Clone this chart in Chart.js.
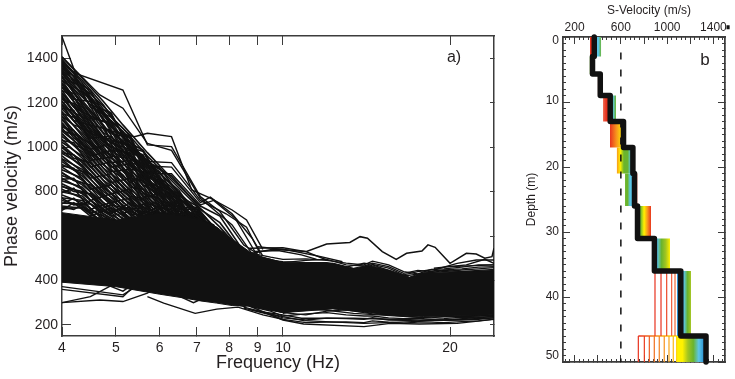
<!DOCTYPE html>
<html>
<head>
<meta charset="utf-8">
<script src="https://cdn.jsdelivr.net/npm/chart.js@4"></script>
<style>
  html, body { margin: 0; padding: 0; background: #fff; overflow: hidden; }
  canvas { position: absolute; top: 0; }
  #chart-a { left: 0; }
  #chart-b { left: 520px; }
</style>
</head>
<body>
<canvas id="chart-a" width="520" height="379"></canvas>
<canvas id="chart-b" width="215" height="379"></canvas>
<script>
//Panel a) axes
const freqTicks = [4, 5, 6, 7, 8, 9, 10, 20];
const phaseTicks = [200, 400, 600, 800, 1000, 1200, 1400];

//Panel a) the solid part of the curve bundle
const envFreq = [4, 5, 6, 6.6, 7.1, 7.6, 8.1, 8.7, 9.2, 10, 12.3, 13.4, 14.3, 15.6, 16.9, 17.9, 20, 22, 24];
const envUpper = [705, 672, 703, 690, 672, 640, 585, 530, 505, 480, 478, 455, 468, 445, 415, 435, 438, 442, 445];
const envLower = [392, 372, 338, 322, 308, 298, 287, 285, 272, 255, 272, 262, 255, 245, 240, 238, 240, 242, 246];

//Panel a) curves above the bundle, all read at these frequencies
const steepFreq = [4, 4.35, 4.75, 5.15, 5.7, 6.3, 7.1, 7.7, 8.5];
const steepCurves = [
  [1405, 1310, 1205, 1100, 975, 860, 735, 690, 530],
  [1395, 1290, 1170, 1085, 960, 850, 720, 660, 520],
  [1390, 1300, 1190, 1060, 930, 870, 725, 640, 520],
  [1380, 1270, 1160, 1040, 940, 830, 700, 620, 500],
  [1372, 1280, 1140, 1070, 910, 820, 690, 600, 490],
  [1365, 1250, 1150, 1020, 925, 790, 710, 610, 510],
  [1358, 1260, 1120, 1050, 900, 810, 675, 590, 480],
  [1350, 1230, 1130, 1000, 890, 770, 660, 570, 470],
  [1340, 1240, 1090, 1030, 870, 800, 650, 560, 460],
  [1330, 1210, 1100, 980, 880, 750, 680, 580, 500],
  [1320, 1190, 1065, 1010, 850, 780, 640, 550, 450],
  [1312, 1200, 1080, 960, 860, 735, 655, 540, 470],
  [1300, 1170, 1045, 990, 835, 760, 630, 530, 445],
  [1290, 1180, 1060, 945, 845, 720, 640, 525, 460],
  [1280, 1150, 1025, 970, 820, 745, 620, 520, 440],
  [1268, 1160, 1040, 925, 830, 705, 610, 515, 450],
  [1255, 1130, 1010, 950, 800, 730, 600, 510, 430],
  [1245, 1140, 1020, 905, 815, 690, 595, 505, 440],
  [1232, 1110, 990, 930, 785, 715, 590, 500, 425],
  [1220, 1120, 1000, 890, 795, 675, 580, 495, 430],
  [1208, 1090, 975, 910, 770, 700, 575, 490, 420],
  [1195, 1100, 980, 870, 780, 660, 570, 480, 425],
  [1185, 1070, 955, 895, 755, 685, 560, 470, 410],
  [1172, 1080, 960, 855, 765, 650, 550, 470, 415],
  [1160, 1050, 940, 875, 740, 670, 540, 460, 405],
  [1148, 1060, 945, 835, 750, 640, 530, 455, 410],
  [1135, 1030, 920, 860, 725, 655, 525, 450, 400],
  [1122, 1040, 925, 820, 735, 630, 515, 445, 405],
  [1110, 1010, 905, 840, 710, 640, 510, 440, 395],
  [1098, 1020, 905, 800, 720, 620, 500, 440, 400],
  [1085, 990, 885, 825, 700, 625, 495, 430, 390],
  [1072, 1000, 890, 785, 705, 610, 490, 430, 395],
  [1060, 970, 865, 805, 690, 610, 480, 425, 385],
  [1048, 980, 870, 770, 690, 600, 475, 420, 385],
  [1035, 950, 850, 790, 675, 600, 470, 415, 380],
  [1022, 960, 850, 750, 680, 590, 465, 410, 380],
  [1010, 930, 835, 775, 660, 585, 460, 405, 375],
  [998, 940, 830, 735, 665, 575, 455, 400, 370],
  [985, 910, 815, 755, 645, 570, 450, 400, 370],
  [972, 920, 810, 720, 650, 560, 445, 395, 365],
  [960, 890, 800, 740, 630, 555, 440, 390, 365],
  [948, 900, 790, 700, 635, 545, 435, 390, 360],
  [935, 870, 785, 725, 620, 540, 430, 385, 360],
  [922, 880, 770, 690, 620, 530, 425, 380, 355],
  [910, 850, 770, 710, 610, 525, 420, 380, 350],
  [898, 860, 750, 675, 605, 515, 415, 375, 350],
  [885, 830, 750, 695, 600, 510, 410, 370, 345],
  [872, 840, 735, 660, 590, 505, 405, 370, 345],
  [860, 810, 735, 680, 590, 500, 400, 365, 340],
  [848, 820, 720, 645, 575, 490, 400, 360, 340],
  [835, 790, 715, 665, 570, 485, 395, 360, 335],
  [822, 800, 700, 630, 560, 480, 390, 355, 335],
  [810, 770, 700, 650, 555, 475, 390, 350, 330],
  [798, 780, 690, 620, 545, 470, 385, 350, 330],
  [785, 750, 680, 640, 540, 465, 380, 345, 325],
  [772, 760, 670, 610, 530, 460, 380, 345, 325],
  [760, 735, 660, 625, 525, 455, 375, 340, 320],
  [748, 745, 650, 600, 520, 450, 370, 335, 320],
  [735, 725, 660, 610, 510, 445, 370, 335, 315],
  [722, 730, 690, 640, 560, 470, 380, 340, 315],
];

//Panel a) the curves that wander across the steep ones
const crossFreq = [4, 4.2, 4.5, 4.9, 5.3, 5.6, 6, 6.5, 7, 7.5, 8];
const crossCurves = [
  [1385, 1330, 1215, 1120, 1040, 945, 905, 790, 700, 640, 560],
  [1345, 1305, 1255, 1090, 1020, 985, 860, 760, 720, 620, 540],
  [1300, 1262, 1190, 1155, 985, 940, 880, 805, 680, 650, 530],
  [1268, 1240, 1160, 1060, 1045, 900, 840, 780, 735, 600, 520],
  [1240, 1180, 1140, 1100, 960, 920, 870, 725, 690, 630, 500],
  [1215, 1195, 1075, 1020, 990, 965, 800, 750, 660, 590, 510],
  [1190, 1120, 1100, 1000, 970, 870, 845, 770, 640, 610, 490],
  [1150, 1135, 1040, 1050, 920, 880, 780, 700, 710, 570, 480],
  [1125, 1060, 1015, 930, 940, 840, 810, 680, 630, 600, 470],
  [1090, 1075, 960, 985, 860, 850, 740, 730, 610, 560, 500],
  [1060, 1010, 980, 890, 900, 790, 770, 650, 680, 540, 460],
  [1030, 1020, 910, 935, 820, 810, 700, 700, 590, 570, 450],
  [1000, 950, 930, 840, 860, 750, 730, 620, 650, 520, 480],
  [975, 965, 860, 880, 780, 770, 660, 670, 570, 550, 440],
  [945, 900, 880, 790, 810, 710, 700, 640, 620, 500, 460],
  [915, 905, 810, 830, 740, 730, 650, 610, 560, 530, 430],
  [885, 850, 830, 750, 770, 680, 680, 590, 600, 500, 450],
  [855, 860, 760, 790, 700, 690, 630, 640, 550, 510, 420],
  [825, 800, 790, 710, 730, 660, 660, 600, 580, 480, 440],
  [795, 815, 720, 750, 680, 650, 620, 660, 540, 490, 430],
  [770, 740, 745, 690, 710, 690, 720, 670, 620, 520, 440],
  [745, 770, 700, 740, 720, 730, 700, 740, 650, 560, 470],
  [730, 720, 760, 700, 750, 700, 735, 690, 700, 600, 490],
  [715, 750, 690, 725, 680, 745, 690, 725, 730, 640, 520],
  [1375, 1290, 1240, 1150, 1000, 980, 850, 770, 690, 600, 500],
  [1355, 1320, 1180, 1135, 1055, 930, 890, 745, 670, 620, 510],
  [1335, 1270, 1225, 1070, 1000, 960, 825, 790, 705, 580, 490],
  [1318, 1250, 1130, 1110, 950, 905, 855, 720, 720, 590, 480],
  [1285, 1215, 1205, 1030, 1010, 860, 820, 760, 650, 630, 470],
  [1255, 1225, 1100, 1075, 930, 915, 760, 735, 680, 570, 500],
  [1230, 1155, 1120, 985, 975, 880, 850, 700, 660, 600, 480],
  [1205, 1145, 1060, 1035, 900, 890, 790, 710, 695, 550, 490],
  [1175, 1165, 1020, 960, 950, 825, 835, 690, 640, 590, 470],
  [1138, 1100, 1070, 910, 925, 855, 720, 760, 600, 530, 460],
  [1108, 1040, 990, 1015, 840, 875, 760, 665, 670, 545, 450],
  [1075, 1055, 940, 955, 880, 775, 790, 640, 625, 580, 480],
];

//Panel a) curves along the upper and lower edge at high frequency
const edgeFreq = [8.5, 9.5, 10, 11, 12, 13, 14, 14.5, 15.5, 16.5, 17.5, 18.5, 19.5, 21, 22.5, 24];
const edgeCurves = [
  [530, 505, 495, 497, 490, 478, 470, 487, 470, 440, 430, 450, 452, 460, 470, 470],
  [520, 495, 480, 490, 495, 470, 465, 478, 462, 432, 445, 440, 448, 452, 460, 462],
  [510, 490, 485, 480, 480, 460, 478, 472, 455, 425, 440, 448, 440, 447, 452, 458],
  [505, 480, 470, 475, 470, 455, 450, 470, 445, 420, 428, 435, 445, 440, 445, 450],
  [300, 270, 255, 245, 262, 268, 255, 250, 245, 240, 235, 232, 238, 240, 240, 245],
  [290, 262, 240, 250, 255, 245, 240, 240, 232, 228, 230, 225, 228, 235, 232, 240],
  [280, 250, 232, 222, 230, 228, 225, 232, 222, 220, 218, 222, 220, 222, 225, 232],
  [275, 245, 225, 210, 212, 214, 210, 218, 212, 208, 212, 212, 210, 215, 218, 226],
];

//Panel a) single curves that can be followed by eye, as [frequency, velocity]
const looseCurves = [
  [[4, 1497], [4.23, 1332], [5.15, 1257], [5.7, 1010], [6.3, 1002], [7.1, 777], [7.7, 710], [8.5, 560], [9, 520]],
  [[4, 1407], [4.68, 1235], [5.15, 1175], [5.7, 1017], [6.3, 985], [7.1, 770], [8.1, 650], [8.8, 520]],
  [[4.8, 1077], [5.4, 1047], [5.7, 1062], [6.3, 1047], [6.85, 807], [7.4, 770], [8.1, 717], [8.6, 672], [9.2, 540]],
  [[5.15, 1000], [5.7, 935], [6.3, 930], [7.1, 760], [7.9, 700], [8.6, 640], [9.1, 520]],
  [[5.15, 980], [5.7, 915], [6.3, 910], [7.1, 750], [7.4, 775], [8.1, 700], [8.8, 590], [9.2, 510]],
  [[5.4, 1010], [5.7, 880], [6.3, 880], [7.1, 740], [7.5, 760], [8.2, 680], [9, 510]],
  //lowest curves at the left
  [[4, 300], [4.68, 312], [5.15, 305], [5.7, 343], [6.2, 400]],
  [[4, 300], [4.5, 327], [5.05, 393], [5.5, 430]],
  [[4, 360], [5.15, 327], [5.35, 366], [5.8, 420]],
  [[4, 372], [5.15, 335], [5.5, 380]],
  [[4, 395], [4.6, 400], [5.15, 352], [5.5, 400]],
  [[5.7, 327], [6.1, 298], [6.95, 252], [7.6, 271], [8.3, 280], [9.2, 245], [10, 225]],
  [[5.9, 370], [6.3, 345], [6.9, 300], [7.2, 320], [7.8, 305], [8.6, 280]],
  [[6, 380], [6.4, 350], [6.95, 318], [7.4, 335], [8.2, 300]],
  //lowest curves at the right
  [[8.7, 285], [10, 222], [10.9, 204], [14, 192], [15.6, 207], [17.6, 204], [20.6, 207], [24, 225]],
  [[8.7, 270], [10, 237], [10.9, 219], [14, 207], [17.6, 216], [24, 237]],
  [[10, 252], [10.8, 272], [11.9, 267], [13.4, 252], [17.6, 234], [24, 241]],
  [[9, 262], [10, 245], [10.8, 230], [13.4, 230], [17.6, 222], [20, 222], [24, 232]],
  //upper edge of the bundle at the right
  [[8.7, 545], [10, 547], [11, 530], [12, 492]],
  [[9, 552], [10.2, 537], [11.7, 507], [12.8, 484]],
  [[8.9, 530], [9.8, 535], [10.8, 515], [11.5, 495]],
  [[18.7, 447], [20.6, 477], [22.3, 492], [24, 492]],
  [[18.7, 455], [21.4, 470], [23.1, 495], [24, 477]],
  [[20, 462], [24, 470]],
];
//the one curve standing clear of the rest
const outlierFreq = [8.7, 9.6, 11.03, 11.99, 13.2, 13.77, 14.2, 15.1, 16, 16.7, 17.8, 18.25, 18.8, 20, 21.4, 22.3, 23.1, 23.8, 24];
const outlierVel = [520, 540, 530, 564, 571, 597, 590, 530, 495, 522, 532, 560, 549, 477, 522, 519, 500, 507, 545];

//Panel b) axes
const velocityTicks = [200, 400, 600, 800, 1000, 1200, 1400];
const velocityLabels = [200, 600, 1000, 1400];
const depthTicks = [0, 10, 20, 30, 40, 50];
const depthLabelSpots = [0.55, 9.85, 20, 29.9, 40, 49];
const depthLabels = ["0", "10", "20", "30", "40", "50"];

//Panel b) layers of the best model
const layerTop = [0, 3, 5.7, 9, 13, 17, 21, 26, 31, 36, 46];
const layerBottom = [3, 5.7, 9, 13, 17, 21, 26, 31, 36, 46, 50];
const layerVelocity = [370, 355, 422, 508, 623, 704, 718, 744, 890, 1118, 1336];

//Panel b) colour band of each layer
const red = "#e8331f", salmon = "#ee6a50", orange = "#f7941d", yellow = "#fff200";
const lime = "#a4c520", green = "#6ab42d", cyan = "#5cc6e8", blue = "#2b8fd0";
const bandLow = [333, 329, 400, 446, 506, 564, 636, 740, 878, 1085, 1085];
const bandHigh = [430, 368, 428, 558, 618, 688, 744, 861, 1025, 1206, 1320];
const bandColors = [
  [red, red, cyan, cyan, green],
  [green, green],
  [red, red],
  [salmon, red, red, cyan, green],
  [red, orange, yellow],
  [orange, yellow, green, green, cyan],
  [green, green, cyan, cyan, red, red],
  [cyan, green, yellow, orange, red],
  [blue, cyan, green, lime, yellow],
  [blue, blue, cyan, green, lime],
  [yellow, yellow, lime, green, cyan, blue],
];

//Panel b) separate thin profiles in the two deepest layers
const hatchDeep = [895, 947, 996, 1039, 1068];
const hatchDeepColors = ["#e8331f", "#e8331f", "#ec4a2a", "#ef5a3c", "#ef6a3c"];
const hatchLast = [751, 803, 846, 889, 932, 975, 1016, 1053, 1082];
const hatchLastColors = ["#e8331f", "#ea3d1f", "#ee5a20", "#f0701f", "#f38020", "#f6921e", "#f9a51b", "#fbba18", "#fdd30f"];
const referenceVelocity = 600;
const referenceDepth = [2.4, 50];

const ink = "#231f20";
const frame = "#3c3c3c";
const family = "'Liberation Sans', Arial, sans-serif";

//Chart.js gets a fixed box per axis so the plot area lands where it should
function fixBox(size) {
  return (scale) => {
    if (scale.isHorizontal()) scale.height = size;
    else scale.width = size;
    scale.paddingLeft = scale.paddingRight = scale.paddingTop = scale.paddingBottom = 0;
  };
}

function setTicks(values) {
  return (scale) => {
    scale.ticks = values.map((v) => ({ value: v }));
  };
}

function setStepTicks(low, high, step) {
  return (scale) => {
    scale.ticks = [];
    for (let v = low; v <= high; v += step) scale.ticks.push({ value: v });
  };
}

function tickAxis(extra) {
  return Object.assign(
    {
      ticks: { display: false, autoSkip: false },
      grid: { drawOnChartArea: false, tickColor: frame, tickWidth: 1, tickLength: -9 },
      border: { color: frame, width: 1.5 },
    },
    extra
  );
}

//labels placed freely inside a panel
const panelLetter = {
  id: "panelLetter",
  afterDraw(chart, args, opts) {
    const c = chart.ctx;
    c.save();
    c.fillStyle = ink;
    c.font = opts.size + "px " + family;
    c.textAlign = "center";
    c.textBaseline = "middle";
    c.fillText(opts.text, opts.x, opts.y);
    c.restore();
  },
};

//Panel a)
const datasetsA = [];
datasetsA.push({
  data: envFreq.map((f, i) => ({ x: f, y: envUpper[i] })),
  borderColor: "#111",
  borderWidth: 1,
  backgroundColor: "#111",
  fill: "+1",
});
datasetsA.push({
  data: envFreq.map((f, i) => ({ x: f, y: envLower[i] })),
  borderColor: "#111",
  borderWidth: 1,
  fill: false,
});
for (let curve of steepCurves) {
  datasetsA.push({
    data: steepFreq.map((f, i) => ({ x: f, y: curve[i] })),
    borderColor: "#111",
    borderWidth: 1.6,
    fill: false,
  });
}
for (let curve of crossCurves) {
  datasetsA.push({
    data: crossFreq.map((f, i) => ({ x: f, y: curve[i] })),
    borderColor: "#111",
    borderWidth: 1.6,
    fill: false,
  });
}
for (let curve of edgeCurves) {
  datasetsA.push({
    data: edgeFreq.map((f, i) => ({ x: f, y: curve[i] })),
    borderColor: "#111",
    borderWidth: 1.3,
    fill: false,
  });
}
for (let curve of looseCurves) {
  datasetsA.push({
    data: curve.map((p) => ({ x: p[0], y: p[1] })),
    borderColor: "#111",
    borderWidth: 1.4,
    fill: false,
  });
}
datasetsA.push({
  data: outlierFreq.map((f, i) => ({ x: f, y: outlierVel[i] })),
  borderColor: "#111",
  borderWidth: 1.5,
  fill: false,
});

new Chart(document.getElementById("chart-a"), {
  type: "scatter",
  data: { datasets: datasetsA },
  plugins: [panelLetter],
  options: {
    responsive: false,
    animation: false,
    layout: { padding: { top: 36, right: 26, left: 0, bottom: 0 } },
    elements: { point: { radius: 0 }, line: { tension: 0 } },
    datasets: { scatter: { showLine: true } },
    plugins: {
      legend: { display: false },
      tooltip: { enabled: false },
      panelLetter: { text: "a)", x: 454, y: 58, size: 16 },
    },
    scales: {
      x: tickAxis({
        type: "logarithmic",
        position: "bottom",
        min: 4,
        max: 24,
        afterBuildTicks: setTicks(freqTicks),
        afterFit: fixBox(43),
        ticks: {
          display: true,
          autoSkip: false,
          maxRotation: 0,
          padding: 13,
          color: ink,
          font: { family: family, size: 14 },
          callback: (v) => String(v),
        },
        title: { display: true, text: "Frequency (Hz)", color: ink, font: { family: family, size: 18 }, padding: { top: 0, bottom: 5 } },
      }),
      xTop: tickAxis({
        type: "logarithmic",
        position: "top",
        min: 4,
        max: 24,
        afterBuildTicks: setTicks(freqTicks),
        afterFit: fixBox(0),
      }),
      y: tickAxis({
        type: "linear",
        position: "left",
        min: 150,
        max: 1500,
        afterBuildTicks: setTicks(phaseTicks),
        afterFit: fixBox(62),
        ticks: {
          display: true,
          autoSkip: false,
          padding: 13,
          color: ink,
          font: { family: family, size: 14 },
          callback: (v) => String(v),
        },
        title: { display: true, text: "Phase velocity (m/s)", color: ink, font: { family: family, size: 18 }, padding: { top: 1, bottom: 0 } },
      }),
      yRight: tickAxis({
        type: "linear",
        position: "right",
        min: 150,
        max: 1500,
        afterBuildTicks: setTicks(phaseTicks),
        afterFit: fixBox(0),
        grid: { drawOnChartArea: false, tickColor: frame, tickWidth: 1, tickLength: -4 },
      }),
    },
  },
});

//Panel b)
function bandGradient(colors, low, high) {
  return (ctx) => {
    const area = ctx.chart.chartArea;
    if (!area) return colors[0];
    const x = ctx.chart.scales.x;
    const g = ctx.chart.ctx.createLinearGradient(x.getPixelForValue(low), 0, x.getPixelForValue(high), 0);
    colors.forEach((col, i) => g.addColorStop(i / (colors.length - 1), col));
    return g;
  };
}

const datasetsB = [];
layerTop.forEach((top, i) => {
  datasetsB.push({
    data: [
      { x: bandLow[i], y: layerBottom[i] },
      { x: bandHigh[i], y: layerBottom[i] },
    ],
    borderWidth: 0,
    backgroundColor: bandGradient(bandColors[i], bandLow[i], bandHigh[i]),
    fill: { value: top },
    order: 5,
  });
});
hatchDeep.forEach((v, i) => {
  datasetsB.push({
    data: [{ x: v, y: layerTop[9] }, { x: v, y: layerBottom[9] }],
    borderColor: hatchDeepColors[i],
    borderWidth: 1.2,
    fill: false,
    order: 4,
  });
});
hatchLast.forEach((v, i) => {
  datasetsB.push({
    data: [{ x: v, y: layerTop[10] }, { x: v, y: layerBottom[10] }],
    borderColor: hatchLastColors[i],
    borderWidth: 1.2,
    fill: false,
    order: 4,
  });
});
datasetsB.push({
  data: [{ x: hatchLast[0], y: layerTop[10] }, { x: bandLow[10], y: layerTop[10] }],
  borderColor: bandGradient([red, orange, yellow], hatchLast[0], bandLow[10]),
  borderWidth: 1.4,
  fill: false,
  order: 4,
});
//dashed reference line
datasetsB.push({
  data: referenceDepth.map((d) => ({ x: referenceVelocity, y: d })),
  borderColor: "#111",
  borderWidth: 1.5,
  borderDash: [7, 10],
  fill: false,
  order: 3,
});
//best model on top
const profilePoints = [{ x: layerVelocity[0], y: layerTop[0] }];
layerBottom.forEach((d, i) => {
  if (i > 0) profilePoints.push({ x: layerVelocity[i], y: layerTop[i] });
  profilePoints.push({ x: layerVelocity[i], y: d });
});
datasetsB.push({
  data: profilePoints,
  borderColor: "#111",
  borderWidth: 5.5,
  borderJoinStyle: "round",
  borderCapStyle: "round",
  fill: false,
  clip: false,
  order: 1,
});
//stray blot next to the last top label
datasetsB.push({
  data: [{ x: 1513, y: -1.5 }, { x: 1540, y: -1.5 }],
  borderColor: "#111",
  borderWidth: 4,
  fill: false,
  clip: false,
  order: 1,
});

function minorGrid(length) {
  return { drawOnChartArea: false, tickColor: frame, tickWidth: 1, tickLength: length };
}

new Chart(document.getElementById("chart-b"), {
  type: "scatter",
  data: { datasets: datasetsB },
  plugins: [panelLetter],
  options: {
    responsive: false,
    animation: false,
    layout: { padding: { top: 0, right: 10, left: 0, bottom: 0 } },
    elements: { point: { radius: 0 }, line: { tension: 0 } },
    datasets: { scatter: { showLine: true } },
    plugins: {
      legend: { display: false },
      tooltip: { enabled: false },
      panelLetter: { text: "b", x: 185, y: 60, size: 17 },
    },
    scales: {
      x: tickAxis({
        type: "linear",
        position: "bottom",
        min: 100,
        max: 1500,
        weight: 1,
        afterBuildTicks: setTicks(velocityTicks),
        afterFit: fixBox(17),
        grid: minorGrid(-7),
      }),
      xMinor: tickAxis({
        type: "linear",
        position: "bottom",
        min: 100,
        max: 1500,
        weight: 0,
        afterBuildTicks: setStepTicks(120, 1480, 40),
        afterFit: fixBox(0),
        grid: minorGrid(-3),
      }),
      xTop: tickAxis({
        type: "linear",
        position: "top",
        min: 100,
        max: 1500,
        weight: 1,
        afterBuildTicks: setTicks(velocityTicks),
        afterFit: fixBox(37),
        grid: minorGrid(-7),
        ticks: {
          display: true,
          autoSkip: false,
          maxRotation: 0,
          padding: 9,
          color: ink,
          font: { family: family, size: 12 },
          callback: (v) => (velocityLabels.includes(v) ? String(v) : ""),
        },
        title: { display: true, text: "   S-Velocity (m/s)", color: ink, font: { family: family, size: 12 }, padding: { top: 3, bottom: 0 } },
      }),
      xTopMinor: tickAxis({
        type: "linear",
        position: "top",
        min: 100,
        max: 1500,
        weight: 0,
        afterBuildTicks: setStepTicks(120, 1480, 40),
        afterFit: fixBox(0),
        grid: minorGrid(-3),
      }),
      y: tickAxis({
        type: "linear",
        position: "left",
        reverse: true,
        min: 0,
        max: 50,
        weight: 0,
        afterBuildTicks: setTicks(depthTicks),
        afterFit: fixBox(0),
        grid: minorGrid(-7),
      }),
      yMinor: tickAxis({
        type: "linear",
        position: "left",
        reverse: true,
        min: 0,
        max: 50,
        weight: 0,
        afterBuildTicks: setStepTicks(1, 49, 1),
        afterFit: fixBox(0),
        grid: minorGrid(-3),
      }),
      yLabels: {
        type: "linear",
        position: "left",
        reverse: true,
        min: 0,
        max: 50,
        weight: 1,
        afterBuildTicks: setTicks(depthLabelSpots),
        afterFit: fixBox(43),
        grid: { display: false, drawTicks: false },
        border: { display: false },
        ticks: {
          display: true,
          autoSkip: false,
          padding: 4,
          color: ink,
          font: { family: family, size: 12 },
          callback: (v) => depthLabels[depthLabelSpots.indexOf(v)],
        },
        title: { display: true, text: "Depth (m)", color: ink, font: { family: family, size: 12 }, padding: { top: 4, bottom: 0 } },
      },
      yRight: tickAxis({
        type: "linear",
        position: "right",
        reverse: true,
        min: 0,
        max: 50,
        weight: 0,
        afterBuildTicks: setTicks(depthTicks),
        afterFit: fixBox(0),
        grid: minorGrid(-7),
      }),
      yRightMinor: tickAxis({
        type: "linear",
        position: "right",
        reverse: true,
        min: 0,
        max: 50,
        weight: 0,
        afterBuildTicks: setStepTicks(1, 49, 1),
        afterFit: fixBox(0),
        grid: minorGrid(-3),
      }),
    },
  },
});
</script>
</body>
</html>
